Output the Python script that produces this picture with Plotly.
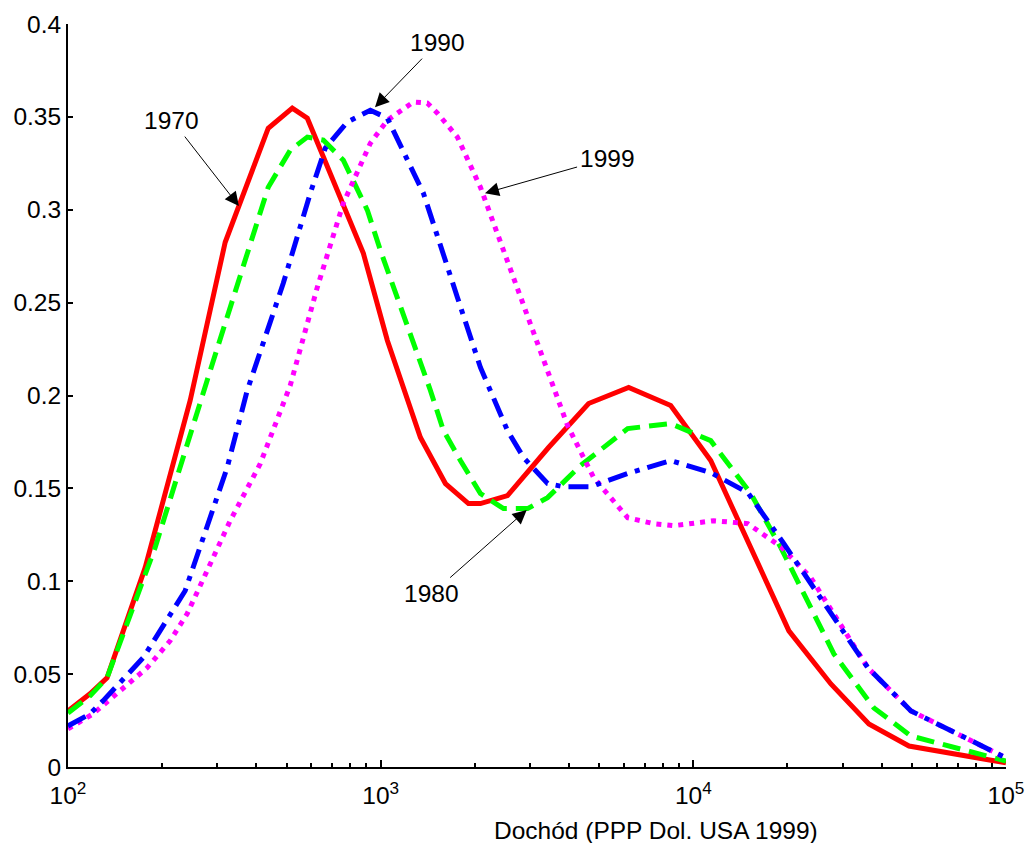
import math
import plotly.graph_objects as go

# ---------------- data ----------------
x_1970 = [100, 117.6, 133.3, 176.5, 245.9, 318.2, 436.9, 521.6, 582.6, 880.4, 1050.5,
          1340, 1611, 1909, 2085, 2545, 3443, 4624, 6212, 8464, 11366, 20212, 27542,
          36430, 48944, 100000]
y_1970 = [0.0302, 0.0394, 0.048, 0.1073, 0.1973, 0.2825, 0.3439, 0.3547, 0.3493, 0.2765,
          0.2296, 0.1774, 0.1526, 0.1418, 0.1418, 0.1461, 0.172, 0.1957, 0.2043, 0.1946,
          0.165, 0.0733, 0.0447, 0.0232, 0.0113, 0.0022]

x_1980 = [100, 117.6, 133.3, 189.9, 278.6, 436.9, 513.7, 582.6, 655.4, 759.6, 907,
          997.7, 1442.6, 1588, 1799, 2085, 2471, 2949, 3418, 4360, 6166, 8464, 11366,
          15271, 19048, 28150, 37810, 49670, 100000]
y_1980 = [0.0291, 0.0383, 0.048, 0.1181, 0.2081, 0.3121, 0.3321, 0.3391, 0.3375, 0.3267,
          0.2997, 0.2782, 0.2027, 0.1811, 0.165, 0.1472, 0.1391, 0.1391, 0.145, 0.1623,
          0.1822, 0.1849, 0.1757, 0.1472, 0.1181, 0.0609, 0.0318, 0.0167, 0.0032]

x_1990 = [100, 117.6, 129.4, 173.9, 237, 278.6, 322.9, 374.3, 488, 595.6, 665.3, 782.1,
          926.8, 1050.7, 1301, 1370, 1760, 2085, 2545, 2864, 3418, 3846, 4694, 6166,
          8464, 11366, 14937, 19480, 36170, 49670, 100000]
y_1990 = [0.0221, 0.0286, 0.0356, 0.0588, 0.0949, 0.1288, 0.1612, 0.2027, 0.2604, 0.3089,
          0.3332, 0.3472, 0.3536, 0.3493, 0.3175, 0.3089, 0.2528, 0.2151, 0.1811, 0.1666,
          0.1526, 0.1509, 0.1509, 0.158, 0.165, 0.1585, 0.1477, 0.1202, 0.0534, 0.0302,
          0.0049]

x_1999 = [100, 120.2, 146.7, 179, 212.1, 240.5, 278.6, 330.2, 412, 513.7, 626.9, 759.6,
          926.8, 1050.7, 1272.6, 1411, 1519, 1760, 2085, 2660, 3175, 3961, 4799, 6166,
          7469, 8654, 11624, 14937, 19048, 23760, 36170, 49670, 100000]
y_1999 = [0.0205, 0.0286, 0.041, 0.0534, 0.0679, 0.0825, 0.1057, 0.1326, 0.1633, 0.2054,
          0.2582, 0.3035, 0.3358, 0.3482, 0.358, 0.3574, 0.352, 0.3391, 0.3121, 0.2636,
          0.228, 0.1838, 0.1558, 0.1342, 0.131, 0.1299, 0.1326, 0.131, 0.1186, 0.1019,
          0.0534, 0.0302, 0.0049]

x_tick_vals = [100, 1000, 10000, 100000]
x_tick_text = ["10<sup>2</sup>", "10<sup>3</sup>", "10<sup>4</sup>", "10<sup>5</sup>"]
y_tick_vals = [0, 0.05, 0.1, 0.15, 0.2, 0.25, 0.3, 0.35, 0.4]
y_tick_text = ["0", "0.05", "0.1", "0.15", "0.2", "0.25", "0.3", "0.35", "0.4"]

x_title = "Dochód (PPP Dol. USA 1999)"

# annotation labels: (text, arrow tip x [income], arrow tip y, text offset px)
label_text = ["1970", "1980", "1990", "1999"]
label_tip_x = [352, 2931, 959, 2156]
label_tip_y = [0.302, 0.1384, 0.3552, 0.3089]
label_ax = [-67, -95, 63, 123]
label_ay = [-86, 84, -65, -35]

FONT = "Liberation Sans, Arial, sans-serif"

fig = go.Figure()
fig.add_trace(go.Scatter(x=x_1970, y=y_1970, mode="lines", name="1970",
                         line=dict(color="#FF0000", width=5)))
fig.add_trace(go.Scatter(x=x_1980, y=y_1980, mode="lines", name="1980",
                         line=dict(color="#00FF00", width=5, dash="18px,9px")))
fig.add_trace(go.Scatter(x=x_1999, y=y_1999, mode="lines", name="1999",
                         line=dict(color="#FF00FF", width=5, dash="5px,6px")))
fig.add_trace(go.Scatter(x=x_1990, y=y_1990, mode="lines", name="1990",
                         line=dict(color="#0000FF", width=5, dash="20px,8px,5px,8px")))

for t, tx, ty, ax, ay in zip(label_text, label_tip_x, label_tip_y, label_ax, label_ay):
    # annotations on a log axis take log10 positions
    fig.add_annotation(x=math.log10(tx), y=ty, xref="x", yref="y", text=t, showarrow=True,
                       ax=ax, ay=ay, arrowhead=2, arrowsize=2.8, arrowwidth=1,
                       arrowcolor="black", standoff=0, startstandoff=2,
                       font=dict(family=FONT, size=24.5, color="black"))

fig.add_annotation(x=0.627, y=-0.086, xref="paper", yref="paper", text=x_title,
                   showarrow=False, xanchor="center", yanchor="middle",
                   font=dict(family=FONT, size=24.5, color="black"))

fig.update_layout(
    width=1026, height=843,
    margin=dict(l=68, r=20, t=24, b=76),
    plot_bgcolor="white", paper_bgcolor="white",
    showlegend=False,
    font=dict(family=FONT, size=24.5, color="black"),
)
fig.update_xaxes(type="log", range=[2, 5], showgrid=False, zeroline=False,
                 automargin=False,
                 showline=True, linecolor="black", linewidth=2,
                 tickmode="array", tickvals=x_tick_vals, ticktext=x_tick_text,
                 ticks="inside", ticklen=7, tickwidth=2, tickcolor="black",
                 ticklabelstandoff=6,
                 minor=dict(ticks="inside", ticklen=4, tickwidth=2, tickcolor="black",
                            dtick="D1", showgrid=False),
                 tickfont=dict(family=FONT, size=24.5, color="black"))
fig.update_yaxes(range=[0, 0.4], showgrid=False, zeroline=False,
                 automargin=False,
                 showline=True, linecolor="black", linewidth=2,
                 tickmode="array", tickvals=y_tick_vals, ticktext=y_tick_text,
                 ticks="inside", ticklen=5, tickwidth=2, tickcolor="black",
                 tickfont=dict(family=FONT, size=24.5, color="black"))

fig.write_html("out.html")
